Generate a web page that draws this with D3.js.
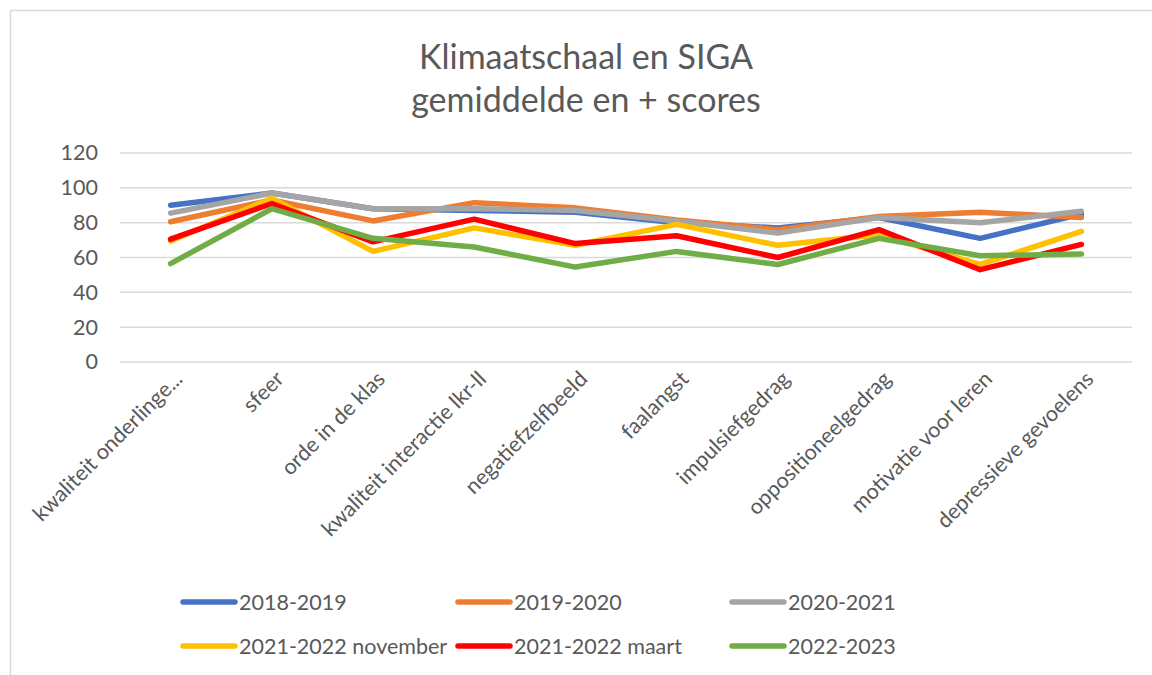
<!DOCTYPE html>
<html>
<head>
<meta charset="utf-8">
<script src="https://cdn.jsdelivr.net/npm/d3@7"></script>
<style>
  html, body { margin: 0; padding: 0; background: #fff; }
  svg { display: block; font-family: Lato, "Open Sans", sans-serif; }
</style>
</head>
<body>
<div id="chart"></div>
<script>
// categories on the x axis
const categories = [
  "kwaliteit onderlinge...", "sfeer", "orde in de klas", "kwaliteit interactie lkr-ll",
  "negatiefzelfbeeld", "faalangst", "impulsiefgedrag", "oppositioneelgedrag",
  "motivatie voor leren", "depressieve gevoelens"
];

const seriesNames = ["2018-2019", "2019-2020", "2020-2021", "2021-2022 november", "2021-2022 maart", "2022-2023"];
const seriesColors = ["#4472c4", "#ed7d31", "#a5a5a5", "#ffc000", "#ff0000", "#70ad47"];

// values
const v2018 = [90, 97, 88, 87, 86, 80, 77, 83, 71, 85];
const v2019 = [80.5, 93, 81, 91.5, 88.5, 81.5, 76, 83.5, 86, 83];
const v2020 = [85.5, 97, 88, 88, 87, 81, 74, 83, 80, 86.5];
const v2021nov = [69.5, 94, 63.5, 77, 67, 79, 67, 73, 56, 75];
const v2021mrt = [70.5, 91, 69, 82, 68, 72.5, 60, 76, 53, 67.5];
const v2022 = [56.5, 88, 71, 66, 54.5, 63.5, 56, 71, 61, 62];

const seriesValues = [v2018, v2019, v2020, v2021nov, v2021mrt, v2022];
const yTicks = [0, 20, 40, 60, 80, 100, 120];

const width = 1152, height = 675;
const plot = {left: 120, right: 1132, top: 153, bottom: 362};
const textColor = "#595959";

const svg = d3.select("#chart").append("svg")
  .attr("width", width)
  .attr("height", height);

// chart frame (only top and left visible)
svg.append("path")
  .attr("d", `M10.5,${height} L10.5,10.5 L${width},10.5`)
  .attr("fill", "none")
  .attr("stroke", "#d9d9d9")
  .attr("stroke-width", 1.5);

// title
const title = svg.append("text")
  .attr("text-anchor", "middle")
  .attr("fill", textColor)
  .style("font-size", "34px");
title.append("tspan").attr("x", 586).attr("y", 69).text("Klimaatschaal en SIGA");
title.append("tspan").attr("x", 586).attr("y", 112).text("gemiddelde en + scores");

const x = d3.scaleBand()
  .domain(categories)
  .range([plot.left, plot.right]);

const y = d3.scaleLinear()
  .domain([0, 120])
  .range([plot.bottom, plot.top]);

// gridlines
svg.append("g")
  .selectAll("line")
  .data(yTicks)
  .enter().append("line")
    .attr("x1", plot.left)
    .attr("x2", plot.right)
    .attr("y1", d => y(d))
    .attr("y2", d => y(d))
    .attr("stroke", "#d9d9d9")
    .attr("stroke-width", 1.5);

// y axis labels
const yAxis = d3.axisLeft(y).tickValues(yTicks).tickSize(0).tickPadding(0);
svg.append("g")
  .attr("transform", `translate(98,0)`)
  .call(yAxis)
  .call(g => g.select(".domain").remove())
  .call(g => g.selectAll("text")
    .attr("fill", textColor)
    .style("font-size", "21.5px")
    .style("font-family", "Lato, sans-serif"));

// x axis labels, rotated
svg.append("g")
  .selectAll("text")
  .data(categories)
  .enter().append("text")
    .attr("transform", d => `translate(${x(d) + x.bandwidth() / 2 + 8},375) rotate(-45)`)
    .attr("text-anchor", "end")
    .attr("dy", "0.35em")
    .attr("fill", textColor)
    .style("font-size", "21.5px")
    .text(d => d);

// lines
const line = d3.line()
  .x((d, i) => x(categories[i]) + x.bandwidth() / 2)
  .y(d => y(d));

svg.append("g")
  .selectAll("path")
  .data(seriesValues)
  .enter().append("path")
    .attr("d", d => line(d))
    .attr("fill", "none")
    .attr("stroke", (d, i) => seriesColors[i])
    .attr("stroke-width", 5.5)
    .attr("stroke-linejoin", "round")
    .attr("stroke-linecap", "round");

// legend
const legendCols = [181, 456, 730];
const legendRows = [602, 646];
const legend = svg.append("g")
  .selectAll("g")
  .data(seriesNames)
  .enter().append("g")
    .attr("transform", (d, i) => `translate(${legendCols[i % 3]},${legendRows[Math.floor(i / 3)]})`);

legend.append("line")
  .attr("x1", 2)
  .attr("x2", 54)
  .attr("stroke", (d, i) => seriesColors[i])
  .attr("stroke-width", 5.5)
  .attr("stroke-linecap", "round");

legend.append("text")
  .attr("x", 58)
  .attr("dy", "0.35em")
  .attr("fill", textColor)
  .style("font-size", "21.5px")
  .text(d => d);
</script>
</body>
</html>
